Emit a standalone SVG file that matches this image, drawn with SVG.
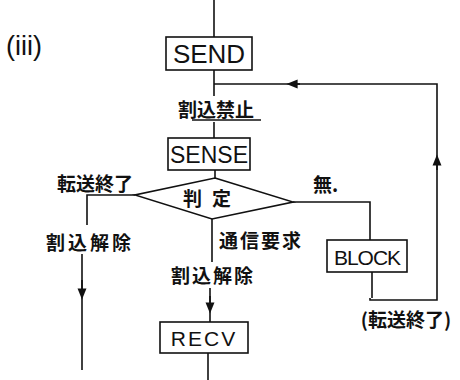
<svg xmlns="http://www.w3.org/2000/svg" width="460" height="380" viewBox="0 0 460 380">
<style>
.ln{stroke:#111;stroke-width:1.6;fill:none}
.box{stroke:#111;stroke-width:1.6;fill:#fff}
.en{font-family:"Liberation Sans",Arial,sans-serif;fill:#111}
.jp{font-family:"Noto Sans CJK JP","Noto Sans CJK SC",sans-serif;font-weight:bold;fill:#111;font-size:19px}
</style>
<defs>
<marker id="ah" viewBox="0 0 10 10" refX="5" refY="5" markerWidth="7" markerHeight="7" orient="auto-start-reverse">
<path d="M0,1 L10,5 L0,9 z" fill="#111"/>
</marker>
</defs>
<rect width="460" height="380" fill="#fff"/>
<text class="en" x="6" y="55" font-size="27">(iii)</text>
<g id="connectors">
<line class="ln" x1="214" y1="0" x2="214" y2="37"/>
<line class="ln" x1="214" y1="70" x2="214" y2="96"/>
<line class="ln" x1="214" y1="122" x2="214" y2="138"/>
<line class="ln" x1="215" y1="170" x2="215" y2="178"/>
<polyline class="ln" points="370,298 370,300 437,300 437,84 214,84"/>
<line class="ln" x1="437" y1="170" x2="437" y2="160" marker-end="url(#ah)"/>
<line class="ln" x1="300" y1="84" x2="292" y2="84" marker-end="url(#ah)"/>
<polyline class="ln" points="135,195 87,195 87,225"/>
<line class="ln" x1="82" y1="254" x2="82" y2="370"/>
<line class="ln" x1="82" y1="280" x2="82" y2="294" marker-end="url(#ah)"/>
<line class="ln" x1="212" y1="219" x2="212" y2="262"/>
<line class="ln" x1="210" y1="288" x2="210" y2="322"/>
<line class="ln" x1="210" y1="296" x2="210" y2="308" marker-end="url(#ah)"/>
<line class="ln" x1="208" y1="353" x2="208" y2="380"/>
<polyline class="ln" points="293,202 370,202 370,240"/>
<line class="ln" x1="372" y1="272" x2="372" y2="298"/>
</g>
<g id="send"><rect class="box" x="166" y="37" width="86" height="33"/><text class="en" x="209" y="63" font-size="26" text-anchor="middle">SEND</text></g>
<g id="lbl-kinshi"><text class="jp" x="216" y="117" text-anchor="middle" font-size="20">割込禁止</text><line class="ln" x1="192" y1="120" x2="261" y2="120" stroke-width="1.2"/></g>
<g id="sense"><rect class="box" x="168" y="138" width="82" height="32"/><text class="en" x="209" y="163" font-size="23" text-anchor="middle">SENSE</text></g>
<g id="decision"><polygon class="box" points="215,178 293,202 212,219 135,195"/><text class="jp" x="212" y="206" text-anchor="middle" letter-spacing="10">判定</text></g>
<g id="lbl-left"><text class="jp" x="95" y="191" text-anchor="middle" font-size="17">転送終了</text><text class="jp" x="90" y="250" text-anchor="middle" font-size="21" letter-spacing="3">割込解除</text></g>
<g id="lbl-center"><text class="jp" x="261" y="248" text-anchor="middle" font-size="21" letter-spacing="2">通信要求</text><text class="jp" x="213" y="283" text-anchor="middle" font-size="20" letter-spacing="2">割込解除</text></g>
<g id="lbl-mu"><text class="jp" x="313" y="192" font-size="17">無.</text></g>
<g id="recv"><rect class="box" x="160" y="322" width="88" height="31"/><text class="en" x="204" y="346" font-size="21" text-anchor="middle" letter-spacing="2">RECV</text></g>
<g id="block"><rect class="box" x="327" y="240" width="80" height="32"/><text class="en" x="367" y="265" font-size="21" text-anchor="middle" letter-spacing="-1">BLOCK</text></g>
<g id="lbl-right"><text class="jp" x="406" y="327" text-anchor="middle" font-size="18">(転送終了)</text></g>
</svg>
